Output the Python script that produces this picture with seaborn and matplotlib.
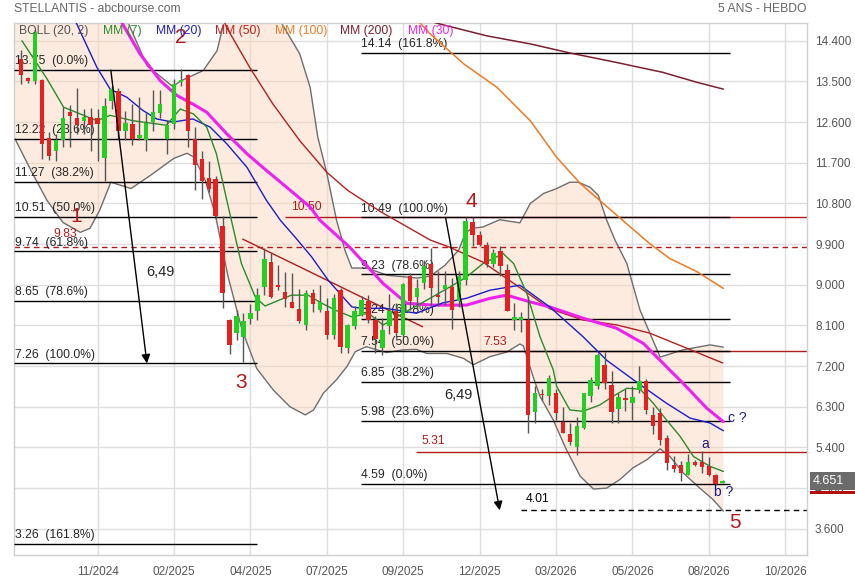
import numpy as np
import pandas as pd
import matplotlib
matplotlib.use("Agg")
import matplotlib.pyplot as plt
import matplotlib.transforms as mtransforms
from matplotlib.patches import Rectangle
import seaborn as sns

sns.set_style("white")
plt.rcParams["font.family"] = ["Liberation Sans", "DejaVu Sans"]

# %% bougies hebdo (semaine 0 = premiere bougie visible)
opens = [14.00, 13.57, 13.51, 13.53, 12.24, 11.96, 12.20, 12.83, 12.68, 12.62,
         12.71, 12.68, 11.81, 13.07, 13.28, 12.40, 12.55, 12.24, 12.20, 12.61,
         12.80, 12.22, 12.55, 13.48, 13.64, 12.22, 11.79, 11.37, 11.33, 10.30,
         8.23, 7.94, 7.84, 8.24, 8.41, 8.96, 9.51, 8.98, 8.83, 8.62,
         8.46, 8.11, 8.81, 8.45, 8.43, 7.89, 8.89, 7.60, 8.09, 8.33,
         8.63, 8.23, 7.60, 8.08, 8.41, 7.89, 9.19, 8.74, 9.04, 9.45,
         8.78, 8.90, 8.96, 8.63, 9.11, 10.39, 10.11, 9.89, 9.45, 9.74,
         9.33, 8.21, 8.23, 8.23, 6.19, 6.59, 6.53, 6.60, 5.97, 5.70,
         5.42, 5.82, 6.53, 6.75, 7.23, 6.78, 6.26, 6.50, 6.38, 6.67,
         6.88, 6.12, 6.16, 5.62, 5.02, 5.01, 4.80, 5.08, 5.07, 4.99,
         4.79, 4.62]
highs = [14.20, 13.60, 14.65, 13.56, 12.37, 12.33, 12.93, 12.97, 13.36, 12.90,
         12.91, 12.90, 13.14, 13.40, 13.35, 12.85, 13.00, 13.15, 12.80, 13.30,
         13.30, 12.65, 13.55, 13.78, 13.66, 12.50, 11.95, 11.74, 11.40, 10.52,
         8.25, 8.45, 8.37, 8.57, 8.93, 9.82, 9.70, 9.43, 9.28, 9.25,
         8.90, 8.89, 8.90, 9.00, 8.70, 8.80, 8.93, 8.14, 8.53, 8.75,
         8.78, 8.30, 8.27, 8.80, 8.60, 9.04, 9.25, 9.12, 9.55, 9.81,
         9.30, 9.30, 9.15, 9.30, 10.50, 10.50, 10.20, 9.95, 9.80, 9.85,
         9.45, 8.60, 8.40, 8.75, 6.75, 6.70, 7.00, 6.70, 6.30, 5.95,
         6.08, 6.60, 6.95, 7.50, 7.52, 7.10, 6.60, 6.70, 6.75, 7.20,
         6.92, 6.30, 6.27, 5.67, 5.20, 5.10, 5.25, 5.12, 5.32, 5.18,
         4.82, 4.67]
lows = [13.45, 13.47, 13.45, 11.79, 11.77, 11.74, 12.04, 12.05, 12.33, 12.33,
        11.96, 11.75, 11.29, 12.90, 12.20, 12.20, 12.10, 12.20, 11.95, 12.40,
        12.70, 11.90, 12.45, 13.40, 12.04, 11.10, 10.90, 11.05, 10.45, 8.49,
        7.47, 7.77, 7.28, 8.14, 8.23, 8.78, 8.70, 8.88, 8.50, 8.48,
        8.15, 8.00, 8.40, 8.40, 7.80, 7.80, 7.50, 7.50, 8.03, 8.30,
        8.15, 7.49, 7.44, 7.90, 7.85, 7.85, 8.45, 8.47, 8.90, 8.52,
        8.52, 8.55, 8.03, 8.50, 9.00, 9.85, 9.85, 9.40, 9.40, 9.20,
        8.41, 8.00, 7.95, 5.73, 5.95, 6.45, 6.35, 6.00, 5.71, 5.45,
        5.24, 5.80, 6.40, 6.70, 6.70, 5.95, 5.95, 6.20, 6.00, 6.60,
        6.15, 5.70, 5.45, 4.90, 4.85, 4.65, 4.78, 4.98, 4.84, 4.76,
        4.57, 4.61]
closes = [13.65, 13.50, 14.59, 12.12, 11.85, 12.20, 12.70, 12.74, 12.54, 12.71,
          12.54, 12.55, 12.96, 13.34, 12.41, 12.59, 12.22, 12.31, 12.57, 12.82,
          13.01, 12.53, 13.44, 13.53, 12.40, 11.64, 11.29, 11.11, 10.52, 8.82,
          7.67, 8.30, 8.19, 8.37, 8.78, 9.57, 8.74, 8.96, 8.69, 8.48,
          8.20, 8.81, 8.58, 8.61, 7.89, 8.71, 7.63, 8.10, 8.43, 8.67,
          8.21, 7.80, 8.00, 8.41, 7.93, 9.02, 8.63, 8.93, 9.41, 8.93,
          8.73, 9.00, 8.45, 9.19, 10.41, 10.11, 9.89, 9.45, 9.71, 9.41,
          8.41, 8.28, 8.28, 6.12, 6.60, 6.55, 6.93, 6.16, 5.71, 5.51,
          5.88, 6.60, 6.90, 7.45, 6.82, 6.19, 6.52, 6.45, 6.52, 6.86,
          6.23, 5.88, 5.57, 5.05, 4.92, 4.83, 5.08, 5.01, 4.97, 4.79,
          4.59, 4.65]

week_ticks = [11, 22, 33, 44, 55, 66, 77, 88, 99, 110]
week_labels = ["11/2024", "02/2025", "04/2025", "07/2025", "09/2025",
               "12/2025", "03/2026", "05/2026", "08/2026", "10/2026"]
price_ticks = [3.6, 4.5, 5.4, 6.3, 7.2, 8.1, 9.0, 9.9, 10.8, 11.7, 12.6, 13.5, 14.4]

# %% moyennes mobiles et bandes de Bollinger (semaine, valeur)
mm7_w = [0.1, 3.7, 6.1, 8.5, 10.9, 12.8, 16.1, 20.9, 22.9, 24.8, 26.7, 28.1, 29.6, 31.7,
         33.7, 35.1, 36.5, 38.9, 41.3, 43.3, 45.2, 47.6, 50.0, 52.1, 55.0, 58.4, 61.7,
         64.1, 66.5, 69.4, 70.9, 72.8, 74.7, 76.6, 77.1, 79.0, 80.9, 83.3, 85.2, 87.2,
         89.1, 91.0, 92.9, 94.9, 96.8, 99.2, 101.1]
mm7_v = [14.40, 13.56, 12.93, 12.78, 12.63, 12.75, 12.63, 12.53, 12.89, 12.78, 12.49, 11.90,
         10.87, 9.47, 8.73, 8.53, 8.62, 8.77, 8.77, 8.59, 8.44, 8.29, 8.37, 8.11, 8.37,
         8.66, 8.95, 9.17, 9.47, 9.69, 9.47, 8.81, 7.85, 7.12, 6.75, 6.23, 6.20, 6.34,
         6.53, 6.71, 6.69, 6.38, 6.01, 5.64, 5.20, 4.98, 4.87]

mm20_w = [6.5, 8.0, 10.9, 12.8, 15.2, 17.5, 19.5, 21.8, 24.7, 27.2, 29.6, 32.5, 35.3, 37.3,
          39.4, 41.8, 44.2, 46.1, 47.6, 49.0, 52.4, 56.9, 60.7, 64.1, 67.5, 71.8, 76.1,
          80.9, 84.3, 89.1, 92.9, 96.3, 99.2, 101.1]
mm20_v = [15.20, 14.77, 13.81, 13.33, 13.15, 12.86, 12.67, 12.60, 12.67, 12.49, 12.12, 11.60,
          10.87, 10.43, 10.06, 9.62, 9.10, 8.77, 8.51, 8.48, 8.48, 8.37, 8.60, 8.70, 8.88,
          8.99, 8.51, 7.85, 7.33, 6.79, 6.38, 6.05, 5.94, 5.77]

mm30_w = [13.5, 14.6, 17.1, 20.0, 22.4, 24.7, 26.7, 29.6, 32.5, 35.3, 38.2, 41.6, 43.0, 47.3,
          52.1, 55.5, 59.3, 64.1, 67.5, 69.9, 73.3, 76.1, 80.9, 85.7, 89.6, 93.4, 95.3,
          98.7, 101.1]
mm30_v = [15.10, 14.77, 14.11, 13.52, 13.19, 13.00, 12.82, 12.34, 11.90, 11.53, 11.16, 10.72,
          10.43, 9.83, 9.03, 8.59, 8.55, 8.55, 8.70, 8.77, 8.62, 8.51, 8.26, 8.04, 7.70,
          7.11, 6.82, 6.27, 5.97]

mm50_w = [28.5, 29.6, 32.9, 36.2, 40.1, 44.0, 47.0, 51.6, 58.9, 61.7, 66.5, 71.3, 76.1,
          80.9, 85.8, 90.5, 95.3, 101.0]
mm50_v = [15.10, 14.69, 13.81, 13.01, 12.19, 11.49, 11.09, 10.63, 9.99, 9.83, 9.50, 8.99,
          8.47, 8.22, 8.11, 7.93, 7.63, 7.27]

mm100_w = [56.5, 57.4, 58.9, 63.7, 68.5, 73.3, 77.1, 80.5, 83.8, 87.7, 90.5, 93.4, 97.3, 101.1]
mm100_v = [15.10, 14.80, 14.55, 13.89, 13.37, 12.63, 11.82, 11.24, 10.80, 10.28, 9.91, 9.58,
           9.29, 8.92]

mm200_w = [55.0, 60.3, 67.0, 73.3, 79.0, 85.7, 92.4, 97.3, 101.1]
mm200_v = [15.00, 14.77, 14.51, 14.33, 14.13, 13.92, 13.70, 13.48, 13.33]

boll_up_w = [-1.0, 11.3, 15.4, 18.1, 21.8, 23.1, 26.2, 28.2, 29.0, 30.0, 35.8, 37.3, 40.1,
             41.6, 42.7, 44.0, 45.4, 46.6, 47.6, 49.8, 52.7, 57.0, 58.9, 61.0, 63.0, 64.0,
             65.0, 66.5, 68.9, 71.8, 73.3, 75.2, 77.1, 79.0, 80.2, 81.9, 83.1, 84.3, 85.5,
             87.2, 89.1, 92.0, 95.3, 99.2, 101.1]
boll_up_v = [15.60, 15.40, 14.80, 13.85, 13.39, 13.52, 13.74, 14.18, 14.69, 15.30, 15.30,
             14.84, 14.11, 13.37, 12.27, 11.47, 10.43, 9.77, 9.37, 9.37, 9.21, 9.15, 9.19,
             9.43, 9.77, 10.16, 10.25, 10.28, 10.44, 10.37, 10.80, 11.02, 11.13, 11.27,
             11.27, 11.16, 10.98, 10.43, 9.99, 9.47, 8.44, 7.40, 7.56, 7.67, 7.62]
boll_lo_w = [-1.0, 1.4, 3.7, 6.0, 8.5, 9.9, 11.3, 12.9, 15.8, 18.6, 22.0, 23.9, 24.9, 26.5,
             27.9, 29.8, 31.8, 33.9, 36.3, 38.7, 40.9, 42.1, 43.5, 45.4, 46.9, 48.1, 49.7,
             51.2, 52.6, 55.0, 56.9, 58.4, 61.3, 63.7, 65.1, 67.5, 69.9, 71.8, 72.3, 73.7,
             74.7, 76.6, 78.5, 80.5, 82.4, 84.3, 86.2, 88.1, 90.1, 92.0, 93.4, 95.3, 97.7,
             99.6, 101.1]
boll_lo_v = [12.26, 11.53, 10.87, 10.38, 10.16, 10.25, 10.65, 11.27, 11.13, 11.42, 11.80,
             11.91, 11.82, 11.31, 10.58, 9.17, 8.00, 7.15, 6.67, 6.30, 6.12, 6.23, 6.60,
             6.90, 7.19, 7.52, 7.63, 7.56, 7.50, 7.56, 7.57, 7.48, 7.48, 7.37, 7.23, 7.41,
             7.51, 7.69, 7.65, 6.97, 6.53, 6.01, 5.35, 4.76, 4.48, 4.50, 4.69, 4.95, 5.13,
             5.37, 5.20, 4.84, 4.50, 4.25, 3.99]

# %% niveaux de Fibonacci
fib_left = [13.75, 12.22, 11.27, 10.51, 9.74, 8.65, 7.26, 3.26]
fib_left_pct = ["0.0%", "23.6%", "38.2%", "50.0%", "61.8%", "78.6%", "100.0%", "161.8%"]
fib_right = [14.14, 10.49, 9.23, 8.24, 7.54, 6.85, 5.98, 4.59]
fib_right_pct = ["161.8%", "100.0%", "78.6%", "61.8%", "50.0%", "38.2%", "23.6%", "0.0%"]

last_price = 4.651

# %%
df = pd.DataFrame({"o": opens, "h": highs, "l": lows, "c": closes})
df["week"] = np.arange(len(df))
df["up"] = df["c"] >= df["o"]

fig = plt.figure(figsize=(8.55, 5.8), dpi=100)
ax = fig.add_axes([0.0167, 0.0431, 0.9268, 0.9178])
xmin, xmax = -1.0, 113.1

# bollinger
ax.fill(boll_up_w + boll_lo_w[::-1], boll_up_v + boll_lo_v[::-1],
        facecolor="#fbd3b8", alpha=0.45, edgecolor="none", zorder=1)
sns.lineplot(x=boll_up_w, y=boll_up_v, ax=ax, color="#6e6e6e", lw=1, sort=False, zorder=2)
sns.lineplot(x=boll_lo_w, y=boll_lo_v, ax=ax, color="#6e6e6e", lw=1, sort=False, zorder=2)

# lignes horizontales rouges
red = "#b01c1c"
ax.hlines(10.50, 38.0, xmax, color=red, lw=1, zorder=2)
ax.hlines(9.83, xmin, xmax, color=red, lw=1, linestyles=(0, (4, 3)), zorder=2)
ax.hlines(7.53, 66.0, xmax, color=red, lw=1, zorder=2)
ax.hlines(5.31, 56.9, xmax, color=red, lw=1, zorder=2)
ax.hlines(4.01, 71.9, xmax, color="black", lw=1, linestyles=(0, (4, 3)), zorder=2)
ax.plot([31.9, 57.8], [10.01, 8.07], color=red, lw=1, zorder=3)

# fibonacci
ax.hlines(fib_left, xmin, 33.9, color="black", lw=1, zorder=3)
ax.hlines(fib_right, 48.9, 102.0, color="black", lw=1, zorder=3)
for v, p in zip(fib_left, fib_left_pct):
    ax.annotate(f"{v:.2f}  ({p})", (xmin + 0.1, v), xytext=(0, 2), textcoords="offset points",
                fontsize=8.7, va="bottom", ha="left", zorder=4)
for v, p in zip(fib_right, fib_right_pct):
    ax.annotate(f"{v:.2f}  ({p})", (48.9, v), xytext=(0, 2), textcoords="offset points",
                fontsize=8.7, va="bottom", ha="left", zorder=4)

for txt, x, v, dy, col in [("10.50", 38.8, 10.50, 3, red), ("9.83", 4.6, 9.83, 5, red),
                           ("7.53", 66.6, 7.53, 2, red), ("5.31", 57.7, 5.31, 3.5, red),
                           ("4.01", 72.7, 4.01, 3.5, "black")]:
    ax.annotate(txt, (x, v), xytext=(0, dy), textcoords="offset points",
                fontsize=8.7, color=col, va="bottom", ha="left", zorder=4)

# moyennes mobiles
sns.lineplot(x=mm200_w, y=mm200_v, ax=ax, color="#7b1f2e", lw=1.1, sort=False, zorder=4)
sns.lineplot(x=mm100_w, y=mm100_v, ax=ax, color="#f07a22", lw=1.1, sort=False, zorder=4)
sns.lineplot(x=mm50_w, y=mm50_v, ax=ax, color="#b52020", lw=1.0, sort=False, zorder=4)
sns.lineplot(x=mm30_w, y=mm30_v, ax=ax, color="#ee22ee", lw=2.2, sort=False, zorder=4)
sns.lineplot(x=mm20_w, y=mm20_v, ax=ax, color="#1c1ccc", lw=1.0, sort=False, zorder=4)
sns.lineplot(x=mm7_w, y=mm7_v, ax=ax, color="#2a8a2a", lw=1.0, sort=False, zorder=4)

# bougies
ax.vlines(df["week"], df["l"], df["h"], color="#555555", lw=1, zorder=5)
body = (df["c"] - df["o"]).abs().clip(lower=0.04)
ax.bar(df["week"], body, bottom=np.minimum(df["o"], df["c"]), width=0.64,
       color=np.where(df["up"], "#22d022", "#e42020"), linewidth=0, zorder=6)

# fleches de projection
for (x0, y0), (x1, y1) in [((12.9, 13.75), (18.1, 7.26)), ((61.1, 10.49), (68.9, 4.01))]:
    ax.annotate("", xy=(x1, y1), xytext=(x0, y0),
                arrowprops=dict(arrowstyle="-|>", color="black", lw=1, mutation_scale=13,
                                shrinkA=0, shrinkB=0), zorder=7)
ax.text(20.0, 9.29, "6,49", fontsize=10.5, ha="center", va="center", zorder=7)
ax.text(62.9, 6.56, "6,49", fontsize=10.5, ha="center", va="center", zorder=7)

# vagues
wave = "#b51a1a"
for txt, x, v in [("1", 7.9, 10.50), ("2", 22.9, 14.47), ("3", 31.7, 6.84),
                  ("4", 64.8, 10.85), ("5", 102.8, 3.75)]:
    ax.text(x, v, txt, fontsize=15, color=wave, ha="center", va="center", zorder=7)
navy = "#1a1a80"
ax.text(98.5, 5.48, "a", fontsize=10, color=navy, ha="center", va="center", zorder=7)
ax.text(101.1, 4.41, "b ?", fontsize=10, color=navy, ha="center", va="center", zorder=7)
ax.text(103.1, 6.06, "c ?", fontsize=10, color=navy, ha="center", va="center", zorder=7)

# axes
ax.set_xlim(xmin, xmax)
ax.set_ylim(3.02, 14.80)
ax.set_xticks(week_ticks)
ax.set_xticklabels(week_labels)
ax.set_yticks(price_ticks)
ax.set_yticklabels([f"{p:.3f}" for p in price_ticks])
ax.yaxis.tick_right()
ax.tick_params(axis="both", length=0, labelsize=8.5, labelcolor="#555555")
ax.tick_params(axis="y", pad=6)
ax.tick_params(axis="x", pad=8)
ax.grid(True, color="#dedede", lw=1)
ax.set_axisbelow(True)
for s in ax.spines.values():
    s.set_color("#cfcfcf")
    s.set_linewidth(1)

# dernier cours
trans = mtransforms.blended_transform_factory(ax.transAxes, ax.transData)
ax.add_patch(Rectangle((1.004, last_price - 0.2), 0.07, 0.4, transform=trans,
                       facecolor="#6b6b6b", edgecolor="none", clip_on=False, zorder=8))
ax.add_patch(Rectangle((1.004, last_price - 0.29), 0.07, 0.08, transform=trans,
                       facecolor="#b01010", edgecolor="none", clip_on=False, zorder=8))
ax.text(1.008, last_price, f"{last_price:.3f}", transform=trans, color="white",
        fontsize=9, va="center", ha="left", zorder=9, clip_on=False)

# titre et legende
fig.text(14 / 855, 1 - 9 / 580, "STELLANTIS - abcbourse.com", fontsize=8.7,
         color="#666666", va="center", ha="left")
fig.text(806 / 855, 1 - 9 / 580, "5 ANS - HEBDO", fontsize=8.7,
         color="#666666", va="center", ha="right")
legend_items = [("BOLL (20, 2)", 19, "#555555"), ("MM (7)", 103, "#2a8a2a"),
                ("MM (20)", 156, "#1c1ccc"), ("MM (50)", 215, "#c02020"),
                ("MM (100)", 275, "#f07a22"), ("MM (200)", 340, "#7b1f2e"),
                ("MM (30)", 408, "#ee22ee")]
for txt, px, col in legend_items:
    fig.text(px / 855, 1 - 30.7 / 580, txt, fontsize=8.7, color=col, va="center", ha="left")

fig.savefig("out.png", dpi=100)
